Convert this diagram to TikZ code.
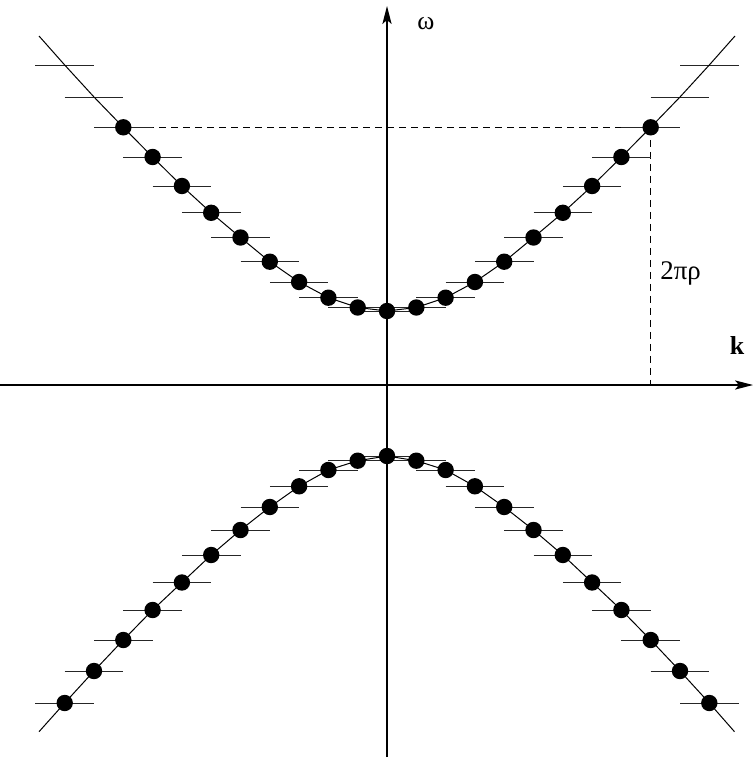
\documentclass[tikz,border=0pt]{standalone}
\usepackage{fontspec}
\setmainfont{Liberation Serif}
\usetikzlibrary{arrows.meta}
\begin{document}
\begin{tikzpicture}[x=0.5bp,y=-0.5bp,
  axis/.style={line width=0.65bp,-{Stealth[length=9bp,width=4.6bp,inset=2bp]}},
  curve/.style={line width=0.5bp},
  tick/.style={line width=0.5bp,black!85},
  dot/.style={circle,fill=black,inner sep=0pt,minimum size=8.2bp},
  guide/.style={line width=0.5bp,dash pattern=on 3.5bp off 2.5bp},
  lbl/.style={inner sep=0pt,anchor=base west}]
\useasboundingbox (0,0) rectangle (755,759);
\def\Ulist{{74,77.5,87.3,103,123.3,147.5,172.2,199,228,257.7,288,320}}
\def\Llist{{71,75.7,85,101.3,122,145,170,197.5,225,255,286,318}}
% points of the two branches
\foreach \n in {0,...,11}{
  \pgfmathsetmacro\hu{\Ulist[\n]}
  \pgfmathsetmacro\hl{\Llist[\n]}
  \coordinate (uL\n) at ({387-29.3*\n},{385-\hu});
  \coordinate (uR\n) at ({387+29.3*\n},{385-\hu});
  \coordinate (lL\n) at ({387-29.3*\n},{385+\hl});
  \coordinate (lR\n) at ({387+29.3*\n},{385+\hl});
}
\coordinate (uEndL) at (39,36);
\coordinate (uEndR) at (735,36);
\coordinate (lEndL) at (39,731.7);
\coordinate (lEndR) at (734.5,731.7);
% axes
\coordinate (O) at (387,385);
\coordinate (yBot) at (387,757);
\coordinate (yTop) at (387,6);
\coordinate (xL) at (0,385);
\coordinate (xR) at (753,385);
\draw[axis] (yBot) -- (yTop);
\draw[axis] (xL) -- (xR);
% dashed guides
\coordinate (foot) at (uR9 |- O);
\draw[guide] (uL9) -- (uR9) -- (foot);
% ticks
\foreach \n in {0,...,11}{
  \draw[tick] (uL\n) ++(-29.3,0) -- ++(58.6,0);
  \draw[tick] (uR\n) ++(-29.3,0) -- ++(58.6,0);
  \draw[tick] (lL\n) ++(-29.3,0) -- ++(58.6,0);
  \draw[tick] (lR\n) ++(-29.3,0) -- ++(58.6,0);
}
% curves
\draw[curve] (uEndL) foreach \n in {11,...,0}{ -- (uL\n)} foreach \n in {1,...,11}{ -- (uR\n)} -- (uEndR);
\draw[curve] (lEndL) foreach \n in {11,...,0}{ -- (lL\n)} foreach \n in {1,...,11}{ -- (lR\n)} -- (lEndR);
% dots
\node[dot] (du0) at (uL0) {};
\foreach \n in {1,...,9}{
  \node[dot] (duL\n) at (uL\n) {};
  \node[dot] (duR\n) at (uR\n) {};
}
\node[dot] (dl0) at (lL0) {};
\foreach \n in {1,...,11}{
  \node[dot] (dlL\n) at (lL\n) {};
  \node[dot] (dlR\n) at (lR\n) {};
}
% labels
\node[lbl,font=\fontsize{13}{15}\selectfont] (om) at (417,29) {ω};
\node[lbl,font=\fontsize{13}{15}\selectfont\bfseries] (kk) at (729.5,354) {k};
\node[lbl,font=\fontsize{13.5}{15}\selectfont] (tpr) at (660,279.3) {2πρ};
\end{tikzpicture}
\end{document}
